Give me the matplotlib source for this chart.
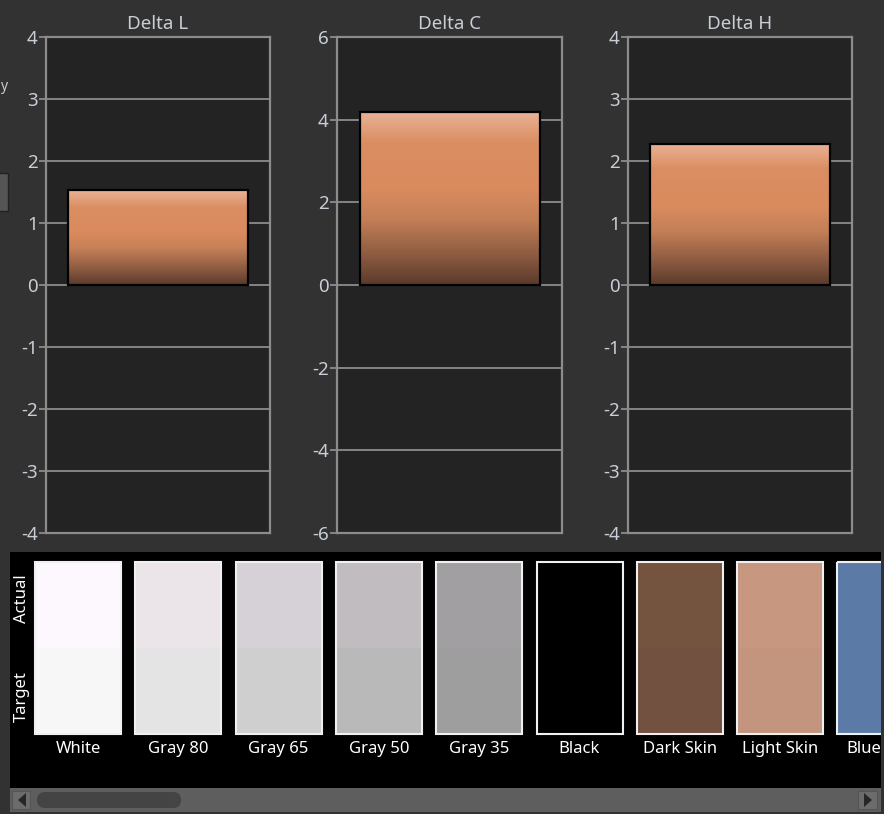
import numpy as np
import matplotlib
matplotlib.use("Agg")
import matplotlib.pyplot as plt
import matplotlib.patches as patches
from matplotlib.colors import LinearSegmentedColormap

# --- data ---
DELTA_TITLES = ["Delta L", "Delta C", "Delta H"]
DELTA_VALUES = [1.53, 4.19, 2.28]
DELTA_LIMITS = [4, 6, 4]
DELTA_STEPS = [1, 2, 1]

SWATCH_NAMES = ["White", "Gray 80", "Gray 65", "Gray 50", "Gray 35",
                "Black", "Dark Skin", "Light Skin", "Blue"]
ACTUAL_COLORS = ["#fdf8fd", "#ebe5ea", "#d6d1d6", "#c0bcc0", "#a19fa2",
                 "#000000", "#75543f", "#c8977f", "#5b7aa5"]
TARGET_COLORS = ["#f7f7f7", "#e4e4e4", "#cfcfcf", "#b9b9b9", "#9e9e9e",
                 "#000000", "#725141", "#c3957f", "#5b7aa5"]

# --- look ---
W, H = 884, 814
FIG_BG = "#323232"
AX_BG = "#232323"
LINE = "#8c8c8c"
TXT = "#c9cdd6"

plt.rcParams["font.family"] = ["Noto Sans", "DejaVu Sans"]
plt.rcParams["axes.unicode_minus"] = False

bar_cmap = LinearSegmentedColormap.from_list("bar", [
    (0.0, "#5a3a2b"), (0.15, "#87573f"), (0.38, "#c47f57"),
    (0.55, "#d98b5e"), (0.82, "#db8e62"), (1.0, "#e9b396")])


def px_axes(fig, left, top, right, bottom):
    return fig.add_axes([left / W, 1 - bottom / H, (right - left) / W, (bottom - top) / H])


fig = plt.figure(figsize=(W / 100, H / 100), dpi=100, facecolor=FIG_BG)

panel_x = [(46, 270), (337, 562), (628, 852)]
for (x0, x1), title, val, lim, step in zip(panel_x, DELTA_TITLES, DELTA_VALUES,
                                           DELTA_LIMITS, DELTA_STEPS):
    ax = px_axes(fig, x0, 37, x1, 533)
    ax.set_facecolor(AX_BG)
    ax.set_xlim(-0.5, 0.5)
    ax.set_ylim(-lim, lim)
    ax.set_yticks(np.arange(-lim, lim + step, step))
    ax.set_xticks([])
    ax.grid(axis="y", color=LINE, lw=1.3, zorder=0)
    ax.set_axisbelow(True)
    for s in ax.spines.values():
        s.set_color(LINE)
        s.set_linewidth(1.6)
    ax.tick_params(axis="y", colors=LINE, labelcolor=TXT, length=5, width=1.3,
                   pad=1, labelsize=13.5)
    ax.set_title(title, color=TXT, fontsize=13.5, pad=6)

    bar = ax.bar(0, val, width=0.8, color="none", edgecolor="black", lw=1.6, zorder=3)[0]
    grad = np.linspace(0, 1, 256).reshape(-1, 1)
    im = ax.imshow(grad, cmap=bar_cmap, origin="lower", aspect="auto",
                   extent=(-0.4, 0.4, 0, val), zorder=2)
    im.set_clip_path(bar)

# bottom swatch strip + scrollbar, drawn in pixel coordinates
bx = px_axes(fig, 0, 0, W, H)
bx.set_zorder(-1)
bx.set_xlim(0, W)
bx.set_ylim(H, 0)
bx.axis("off")

# bits of the surrounding UI cut off at the left edge
bx.add_patch(patches.Rectangle((-4, 173), 12, 38, facecolor="#555555", edgecolor="#222222", lw=1))
bx.text(0, 86, "y", color=TXT, fontsize=10, ha="left", va="center")

bx.add_patch(patches.Rectangle((10, 552), 871, 236, facecolor="black", edgecolor="none"))

pitch = 100.3
sw_w = 86
for i, (name, act, tgt) in enumerate(zip(SWATCH_NAMES, ACTUAL_COLORS, TARGET_COLORS)):
    x = 35 + i * pitch
    bx.add_patch(patches.Rectangle((x, 562), sw_w, 86, facecolor=act, edgecolor="none"))
    bx.add_patch(patches.Rectangle((x, 648), sw_w, 86, facecolor=tgt, edgecolor="none"))
    bx.add_patch(patches.Rectangle((x, 562), sw_w, 172, facecolor="none",
                                   edgecolor="#f0f0f0", lw=1.5))
    # the last label sits where the strip is cut off, so keep it inside
    if x + sw_w > 881:
        bx.text(846, 749, name, color="white", fontsize=12, ha="left", va="center")
    else:
        bx.text(x + sw_w / 2, 749, name, color="white", fontsize=12, ha="center", va="center")

# cover the overflow beyond the strip's right edge
bx.add_patch(patches.Rectangle((881, 540), 10, 280, facecolor=FIG_BG, edgecolor="none", zorder=5))

bx.text(22, 599, "Actual", color="white", fontsize=12, rotation=90, ha="center", va="center")
bx.text(22, 697, "Target", color="white", fontsize=12, rotation=90, ha="center", va="center")

# scrollbar
bx.add_patch(patches.Rectangle((10, 788), 871, 24, facecolor="#5e5e5e", edgecolor="none"))
bx.add_patch(patches.FancyBboxPatch((37, 792), 144, 16, boxstyle="round,pad=0,rounding_size=8",
                                    facecolor="#444444", edgecolor="none"))
bx.add_patch(patches.Rectangle((12, 791), 18, 18, facecolor="#6c6c6c", edgecolor="#555555", lw=0.8))
bx.add_patch(patches.Polygon([(26, 793), (26, 807), (18, 800)], closed=True, facecolor="#262626"))
bx.add_patch(patches.Rectangle((858, 791), 19, 18, facecolor="#6c6c6c", edgecolor="#555555", lw=0.8))
bx.add_patch(patches.Polygon([(864, 793), (864, 807), (872, 800)], closed=True, facecolor="#262626"))

fig.savefig("out.png", dpi=100, facecolor=FIG_BG)
